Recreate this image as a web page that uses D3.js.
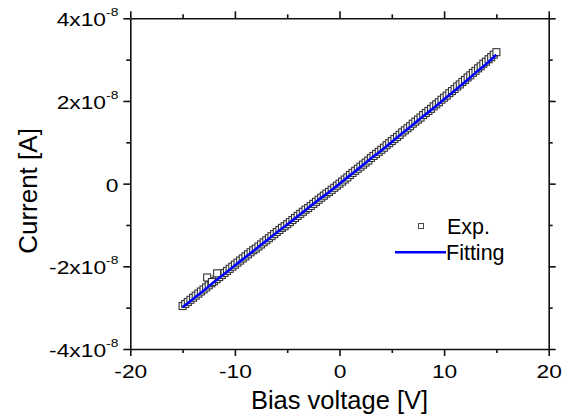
<!DOCTYPE html>
<html><head><meta charset="utf-8">
<script src="https://cdn.jsdelivr.net/npm/d3@7"></script>
<style>
body{margin:0;background:#fff}
text{font-family:"Liberation Sans",Arial,sans-serif;fill:#000}
</style>
</head><body>
<svg id="c" width="569" height="418"></svg>
<script>
// ---- data (current in units of 1e-8 A) ----
const expVoltage = [-15,-14.75,-14.5,-14.25,-14,-13.75,-13.5,-13.25,-13,-12.75,-12.5,-12.25,-12,-11.75,-11.5,-11.25,-11,-10.75,-10.5,-10.25,
  -10,-9.75,-9.5,-9.25,-9,-8.75,-8.5,-8.25,-8,-7.75,-7.5,-7.25,-7,-6.75,-6.5,-6.25,-6,-5.75,-5.5,-5.25,
  -5,-4.75,-4.5,-4.25,-4,-3.75,-3.5,-3.25,-3,-2.75,-2.5,-2.25,-2,-1.75,-1.5,-1.25,-1,-0.75,-0.5,-0.25,
  0,0.25,0.5,0.75,1,1.25,1.5,1.75,2,2.25,2.5,2.75,3,3.25,3.5,3.75,4,4.25,4.5,4.75,
  5,5.25,5.5,5.75,6,6.25,6.5,6.75,7,7.25,7.5,7.75,8,8.25,8.5,8.75,9,9.25,9.5,9.75,
  10,10.25,10.5,10.75,11,11.25,11.5,11.75,12,12.25,12.5,12.75,13,13.25,13.5,13.75,14,14.25,14.5,14.75,15];
const expCurrent = [-2.96,-2.91,-2.86,-2.81,-2.76,-2.71,-2.66,-2.61,-2.56,-2.51,-2.46,-2.41,-2.36,-2.31,-2.26,-2.21,-2.16,-2.11,-2.06,-2.01,
  -1.96,-1.91,-1.86,-1.81,-1.76,-1.71,-1.66,-1.61,-1.57,-1.52,-1.47,-1.42,-1.37,-1.32,-1.27,-1.22,-1.17,-1.12,-1.07,-1.03,
  -0.98,-0.93,-0.88,-0.83,-0.78,-0.73,-0.68,-0.63,-0.59,-0.54,-0.49,-0.44,-0.39,-0.34,-0.29,-0.24,-0.20,-0.15,-0.10,-0.05,
  0.00,0.05,0.10,0.15,0.21,0.26,0.31,0.36,0.41,0.46,0.51,0.56,0.62,0.67,0.72,0.77,0.82,0.87,0.93,0.98,
  1.03,1.08,1.13,1.18,1.24,1.29,1.34,1.39,1.45,1.50,1.55,1.60,1.66,1.71,1.76,1.81,1.87,1.92,1.97,2.03,
  2.08,2.13,2.19,2.24,2.29,2.35,2.40,2.46,2.51,2.57,2.62,2.68,2.73,2.79,2.84,2.90,2.95,3.01,3.06,3.12,3.18];
const outlierVoltage = [-12.65, -11.7, -12.2];
const outlierCurrent = [-2.27, -2.17, -2.38];
const fitVoltage = [-15,-14,-13,-12,-11,-10,-9,-8,-7,-6,-5,-4,-3,-2,-1,0,1,2,3,4,5,6,7,8,9,10,11,12,13,14,15];
const fitCurrent = [-2.99,-2.79,-2.59,-2.38,-2.18,-1.98,-1.78,-1.58,-1.38,-1.18,-0.99,-0.79,-0.59,-0.39,-0.20,0,
  0.20,0.40,0.61,0.80,1.01,1.22,1.42,1.63,1.83,2.04,2.25,2.46,2.68,2.89,3.12];
const xTicks = [-20,-10,0,10,20];
const xMinorTicks = [-15,-5,5,15];
const yTicks = [-4,-2,0,2,4];
const yMinorTicks = [-3,-1,1,3];
const yTickMantissa = {"-4":"-4x10","-2":"-2x10","0":"0","2":"2x10","4":"4x10"};
const yTickExponent = "-8";
const xTitle = "Bias voltage [V]";
const yTitle = "Current [A]";
const legendLabels = ["Exp.","Fitting"];

// ---- drawing ----
const svg = d3.select("#c");
const x = d3.scaleLinear().domain([-20,20]).range([130.3,548.7]);
const y = d3.scaleLinear().domain([-4,4]).range([349,18.3]);
const axisColor = "#111";
const SX = 1.2; // horizontal stretch of tick labels

function styleAxis(g){
  g.select(".domain").attr("stroke",axisColor).attr("stroke-width",1.6);
  g.selectAll(".tick line").attr("stroke",axisColor).attr("stroke-width",1.6);
}
function minor(g){ g.select(".domain").remove(); g.selectAll(".tick line").attr("stroke",axisColor).attr("stroke-width",1.6); g.selectAll(".tick text").remove(); }

// data layers
const pts = expVoltage.map((v,i)=>[v,expCurrent[i]]).concat(outlierVoltage.map((v,i)=>[v,outlierCurrent[i]]));
const S = 7;
svg.append("g").selectAll("rect").data(pts).join("rect")
  .attr("x",d=>x(d[0])-S/2).attr("y",d=>y(d[1])-S/2)
  .attr("width",S).attr("height",S)
  .attr("fill","#fff").attr("stroke","#333").attr("stroke-width",1.1);

const fitPts = fitVoltage.map((v,i)=>[v,fitCurrent[i]]);
svg.append("path").datum(fitPts)
  .attr("d",d3.line().x(d=>x(d[0])).y(d=>y(d[1])).curve(d3.curveMonotoneX))
  .attr("fill","none").attr("stroke","#0000ff").attr("stroke-width",2.6);

// axes
const gB = svg.append("g").attr("transform",`translate(0,${y(-4)})`)
  .call(d3.axisBottom(x).tickValues(xTicks).tickSize(7).tickSizeOuter(0).tickPadding(9).tickFormat(d=>d));
styleAxis(gB);
gB.selectAll(".tick text").attr("font-size",19).attr("font-family",null).attr("fill","#000").attr("transform",`scale(${SX},1)`);
svg.append("g").attr("transform",`translate(0,${y(-4)})`)
  .call(d3.axisBottom(x).tickValues(xMinorTicks).tickSize(4)).call(minor);

const gT = svg.append("g").attr("transform",`translate(0,${y(4)})`)
  .call(d3.axisTop(x).tickValues(xTicks).tickSize(7).tickSizeOuter(0).tickFormat(""));
styleAxis(gT);
svg.append("g").attr("transform",`translate(0,${y(4)})`)
  .call(d3.axisTop(x).tickValues(xMinorTicks).tickSize(4)).call(minor);

const gL = svg.append("g").attr("transform",`translate(${x(-20)},0)`)
  .call(d3.axisLeft(y).tickValues(yTicks).tickSize(7).tickSizeOuter(0).tickPadding(5).tickFormat(""));
styleAxis(gL);
gL.selectAll(".tick text").each(function(d){
  const t = d3.select(this).text(null).attr("font-size",19).attr("font-family",null).attr("fill","#000")
    .attr("x",-12/SX).attr("dy","0.40em").attr("transform",`scale(${SX},1)`);
  t.append("tspan").text(yTickMantissa[String(d)]);
  if (d !== 0) t.append("tspan").attr("font-size",11.5).attr("dy",-10).text(yTickExponent);
});
svg.append("g").attr("transform",`translate(${x(-20)},0)`)
  .call(d3.axisLeft(y).tickValues(yMinorTicks).tickSize(4)).call(minor);

const gR = svg.append("g").attr("transform",`translate(${x(20)},0)`)
  .call(d3.axisRight(y).tickValues(yTicks).tickSize(7).tickSizeOuter(0).tickFormat(""));
styleAxis(gR);
svg.append("g").attr("transform",`translate(${x(20)},0)`)
  .call(d3.axisRight(y).tickValues(yMinorTicks).tickSize(4)).call(minor);

// titles
svg.append("text").attr("x",339.5).attr("y",409).attr("text-anchor","middle")
  .attr("font-size",25.5).text(xTitle);
svg.append("text").attr("transform","translate(37,191) rotate(-90)").attr("text-anchor","middle")
  .attr("font-size",26).text(yTitle);

// legend
svg.append("rect").attr("x",421-2.5).attr("y",226-2.5).attr("width",5).attr("height",5)
  .attr("fill","#fff").attr("stroke","#4a4a4a").attr("stroke-width",1);
svg.append("text").attr("x",447).attr("y",234).attr("font-size",21.5).text(legendLabels[0]);
svg.append("line").attr("x1",395).attr("x2",446).attr("y1",252.3).attr("y2",252.3)
  .attr("stroke","#0000ff").attr("stroke-width",2.6);
svg.append("text").attr("x",446).attr("y",260).attr("font-size",21.5).text(legendLabels[1]);
</script>
</body></html>
